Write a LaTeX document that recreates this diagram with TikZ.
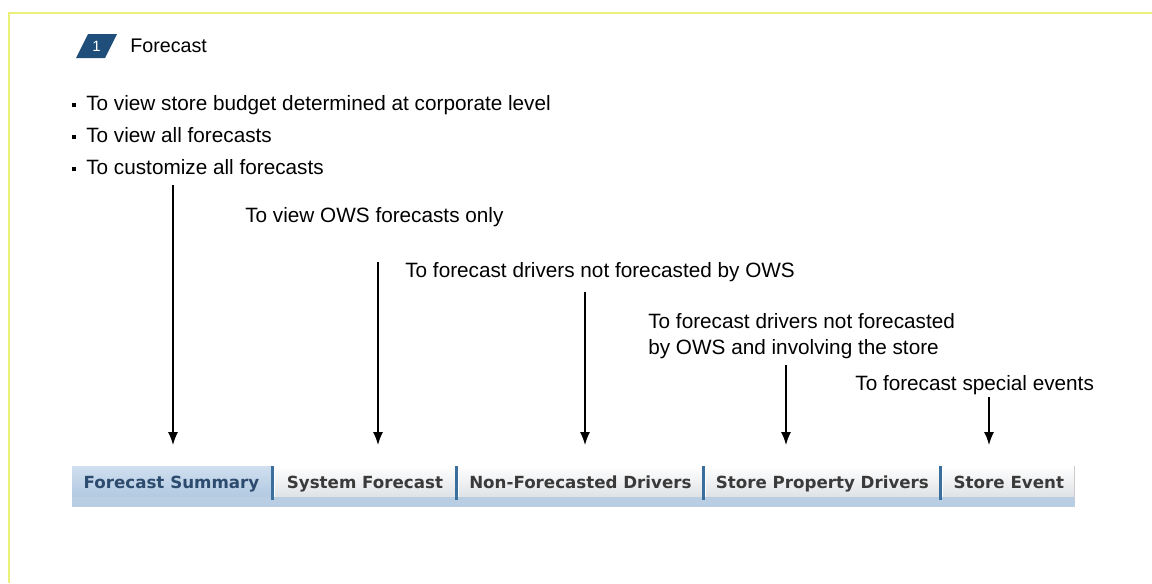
\documentclass[tikz,border=0pt]{standalone}
\usepackage{fontspec}
\setmainfont{Liberation Sans}
\newfontfamily\tabfont{DejaVu Sans}
\usepackage{xcolor}
\usetikzlibrary{positioning,arrows.meta}

\definecolor{framey}{HTML}{EBF07A}
\definecolor{hdrblue}{HTML}{1F4E7A}
\definecolor{tabgrey}{HTML}{3A3A3A}
\definecolor{tabnavy}{HTML}{2D4B6E}
\definecolor{tabfade}{HTML}{DCDFE3}
\definecolor{selhi}{HTML}{CFDFEF}
\definecolor{sello}{HTML}{AFC7E0}
\definecolor{sepblue}{HTML}{3A6E9C}
\definecolor{bandblue}{HTML}{B9CDE3}

\begin{document}
\begin{tikzpicture}[x=0.02cm, y=-0.02cm,
            txt/.style = {anchor = west, inner sep = 0pt, font = \fontsize{11.8}{14.8}\selectfont},
            tab/.style = {inner sep = 0pt, outer sep = 0pt, minimum height = 0.68cm, text = tabgrey,
                          text height = 1.55ex, text depth = 0.45ex,
                          font = \tabfont\bfseries\fontsize{9.5}{11}\selectfont,
                          top color = white, bottom color = tabfade},
            seltab/.style = {tab, text = tabnavy, top color = selhi, bottom color = sello},
            sep/.style = {draw = sepblue, line width = 0.06cm},
            pointer/.style = {-{Latex[length=0.26cm,width=0.2cm]}, line width = 0.8pt, shorten > = 0.42cm}]
        \useasboundingbox (0,0) rectangle (1152,583);
        % frame
        \draw[framey, line width = 1.2pt] (9,583) -- (9,13) -- (1152,13);
        % header
        \fill[hdrblue] (76,58) -- (88,34) -- (117,34) -- (105,58) -- cycle;
        \node[inner sep = 0pt, text = white, font = \fontsize{8.5}{9}\selectfont] (nnum) at (96.5,46) {1};
        \node[txt, font = \fontsize{11.2}{13}\selectfont] (nhead) at (130,46) {Forecast};
        % bullets
        \node[txt] (nb1) at (72,105) {\rule[0.3ex]{0.08cm}{0.08cm}\hspace{0.2cm}To view store budget determined at corporate level};
        \node[txt] (nb2) at (72,135) {\rule[0.3ex]{0.08cm}{0.08cm}\hspace{0.2cm}To view all forecasts};
        \node[txt] (nb3) at (72,167) {\rule[0.3ex]{0.08cm}{0.08cm}\hspace{0.2cm}To customize all forecasts};
        % notes
        \node[txt] (nt1) at (245,217) {To view OWS forecasts only};
        \node[txt] (nt2) at (405,272) {To forecast drivers not forecasted by OWS};
        \node[txt, align = left] (nt3) at (648,336) {To forecast drivers not forecasted\\by OWS and involving the store};
        \node[txt] (nt4) at (855,385) {To forecast special events};
        % tabs
        \node[seltab, minimum width = 3.98cm] (ns1) at (171.5,483) {Forecast Summary};
        \node[tab, minimum width = 3.6cm, right = 0.08cm of ns1] (ns2) {System Forecast};
        \node[tab, minimum width = 4.86cm, right = 0.08cm of ns2] (ns3) {Non-Forecasted Drivers};
        \node[tab, minimum width = 4.66cm, right = 0.08cm of ns3] (ns4) {Store Property Drivers};
        \node[tab, minimum width = 2.64cm, right = 0.08cm of ns4] (ns5) {Store Event};
        \fill[bandblue] ([yshift=0.06cm]ns1.south west) rectangle ([yshift=-0.14cm]ns5.south east);
        \foreach \i in {1,...,4}
            \draw[sep] ([xshift=0.04cm]ns\i.north east) -- ([xshift=0.04cm]ns\i.south east);
        \draw[gray!40] (ns5.north east) -- (ns5.south east);
        % arrows
        \coordinate (a1) at (173,185);
        \coordinate (a2) at (378,262);
        \coordinate (a3) at (585,292);
        \coordinate (a4) at (786,365);
        \coordinate (a5) at (989,397);
        \draw[pointer] (a1) -- (a1 |- ns1.north);
        \draw[pointer] (a2) -- (a2 |- ns2.north);
        \draw[pointer] (a3) -- (a3 |- ns3.north);
        \draw[pointer] (a4) -- (a4 |- ns4.north);
        \draw[pointer] (a5) -- (a5 |- ns5.north);
\end{tikzpicture}
\end{document}
